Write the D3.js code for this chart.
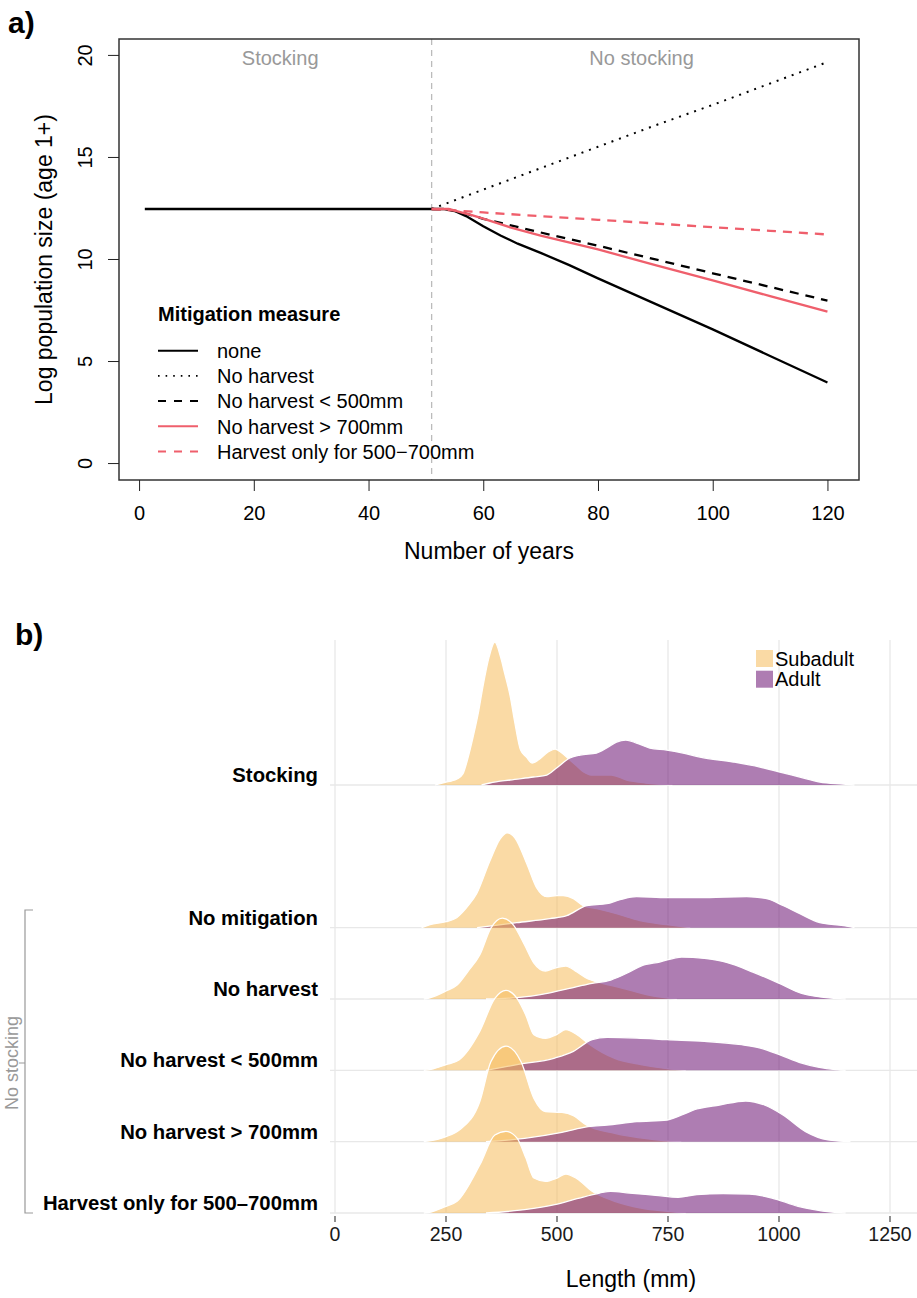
<!DOCTYPE html>
<head>
  <meta charset="utf-8">
  <script src="https://d3js.org/d3.v7.min.js"></script>
  <style>
    body { margin:0; background:#fff; }
    text { font-family: "Liberation Sans", Arial, Helvetica, sans-serif; }
  </style>
</head>

<body>
  <script>
    // ---------- panel a : log population size by year ----------
    var seriesNames = ["none", "No harvest", "No harvest < 500mm", "No harvest > 700mm", "Harvest only for 500\u2212700mm"];

    var noneYears = [1, 51, 53, 55, 57, 60, 63, 66, 70, 75, 80, 90, 100, 110, 120];
    var noneVals  = [12.45, 12.45, 12.45, 12.35, 12.1, 11.6, 11.15, 10.75, 10.3, 9.7, 9.05, 7.8, 6.55, 5.25, 3.95];

    var noHarvYears = [51, 60, 70, 80, 90, 100, 110, 120];
    var noHarvVals  = [12.45, 13.4, 14.45, 15.5, 16.55, 17.55, 18.6, 19.65];

    var lt500Years = [51, 54, 56, 60, 70, 80, 90, 100, 110, 120];
    var lt500Vals  = [12.45, 12.42, 12.3, 11.97, 11.3, 10.65, 9.98, 9.3, 8.63, 7.96];

    var gt700Years = [51, 54, 56, 58, 60, 65, 70, 80, 90, 100, 110, 120];
    var gt700Vals  = [12.45, 12.45, 12.3, 12.15, 11.98, 11.52, 11.15, 10.47, 9.7, 8.95, 8.18, 7.42];

    var onlyYears = [51, 55, 60, 70, 80, 90, 100, 110, 120];
    var onlyVals  = [12.45, 12.38, 12.28, 12.1, 11.92, 11.74, 11.56, 11.38, 11.2];

    var stockingEnd = 51;
    var xTicksA = [0, 20, 40, 60, 80, 100, 120];
    var yTicksA = [0, 5, 10, 15, 20];

    // ---------- panel b : length distributions ----------
    var rowNames = ["Stocking", "No mitigation", "No harvest", "No harvest < 500mm", "No harvest > 700mm", "Harvest only for 500\u2013700mm"];
    var stageNames = ["Subadult", "Adult"];
    var xTicksB = [0, 250, 500, 750, 1000, 1250];

    // [length mm, scaled density]
    var stockingSub = [[225,0],[250,3],[262,4],[275,6],[288,11],[300,28],[311,48],[324,75],[333,98],[347,128],[360,143],[373,128],[382,112],[395,88],[404,65],[418,35],[431,28],[444,22],[458,25],[480,33],[496,36],[511,32],[529,25],[542,20],[560,13],[577,10],[600,10],[622,10],[657,5],[700,2],[760,0]];
    var stockingAd  = [[330,0],[349,2],[394,5],[447,8],[477,10],[499,17],[529,27],[552,30],[589,32],[612,37],[634,43],[655,45],[679,42],[709,37],[747,35],[784,32],[822,28],[897,23],[957,18],[1002,13],[1047,8],[1092,3],[1144,1],[1170,0]];

    var noMitSub = [[195,0],[214,3],[250,6],[274,10],[300,22],[319,34],[349,67],[372,89],[388,95],[405,90],[432,64],[454,40],[477,31],[500,32],[514,32],[537,29],[559,22],[590,19],[634,14],[687,7],[747,3],[800,0]];
    var noMitAd  = [[320,0],[357,2],[409,5],[484,9],[522,12],[567,22],[612,24],[642,28],[679,31],[747,30],[822,30],[927,31],[972,29],[1010,22],[1047,14],[1092,5],[1145,2],[1170,0]];

    var noHarvSub = [[200,0],[212,1],[250,8],[275,14],[300,28],[326,44],[351,71],[377,81],[402,74],[427,54],[448,36],[474,28],[495,31],[520,33],[545,27],[570,20],[592,17],[646,11],[706,4],[770,0]];
    var noHarvAd  = [[340,0],[410,1.3],[478,5.6],[528,10.6],[579,15.6],[621,19],[663,27],[689,33],[731,37],[781,42],[832,40.6],[882,36.6],[941,27],[1001,15.6],[1051,5.6],[1127,0.6],[1150,0]];

    var lt500Sub = [[200,0],[216,1],[250,5.7],[280,10.7],[326,39],[360,72],[385,80],[410,72],[430,55],[448,35.7],[474,32],[500,36],[520,40.7],[545,35.7],[570,27],[630,12],[689,5.7],[748,1.7],[790,0]];
    var lt500Ad  = [[340,0],[410,5.7],[495,12.3],[537,19],[579,30.7],[613,33],[680,32.3],[748,30.7],[832,29],[916,25.7],[958,22.3],[1001,15.7],[1051,7.3],[1127,0.7],[1150,0]];

    var gt700Sub = [[200,0],[212,0.7],[250,5],[280,11.7],[326,40],[351,80],[385,95.7],[419,80],[448,43.3],[474,30],[511,29.3],[537,26],[566,16.7],[630,8.3],[706,2.7],[748,0.7],[780,0]];
    var gt700Ad  = [[340,0],[427,3.3],[511,9.3],[570,15],[613,16.7],[680,20],[748,21.7],[781,26.7],[815,32.7],[866,36.7],[925,40.7],[967,36.7],[1009,26.7],[1060,10],[1110,1.7],[1161,0]];

    var onlySub = [[200,0],[216,1],[250,6.7],[275,11.7],[326,48],[360,78],[385,81.7],[410,75],[430,55],[448,35],[474,31.7],[500,35],[520,39],[545,34.3],[579,21.7],[630,11.7],[689,5],[748,1.7],[790,0]];
    var onlyAd  = [[340,0],[427,3.3],[495,8.3],[545,14.3],[596,20],[621,21.7],[663,20],[722,17.7],[773,15.7],[815,18.3],[874,19.3],[933,19],[984,15],[1043,6.7],[1119,1],[1150,0]];

    var ridgeSub = [stockingSub, noMitSub, noHarvSub, lt500Sub, gt700Sub, onlySub];
    var ridgeAd  = [stockingAd, noMitAd, noHarvAd, lt500Ad, gt700Ad, onlyAd];

    // ------------------------------------------------------------
    var svg = d3.select("body").append("svg")
      .attr("width", 917)
      .attr("height", 1298);

    var red = "#EF5F6C";
    var lineStyles = [
      {color: "#000", dash: null},
      {color: "#000", dash: "2,6"},
      {color: "#000", dash: "9,7"},
      {color: red, dash: null},
      {color: red, dash: "9,7"}
    ];
    var seriesA = [
      d3.zip(noneYears, noneVals),
      d3.zip(noHarvYears, noHarvVals),
      d3.zip(lt500Years, lt500Vals),
      d3.zip(gt700Years, gt700Vals),
      d3.zip(onlyYears, onlyVals)
    ];

    var ax = d3.scaleLinear().domain([-3.5, 125.5]).range([119, 859]);
    var ay = d3.scaleLinear().domain([-0.83, 20.78]).range([480, 39]);

    var ga = svg.append("g");

    svg.append("text").attr("x", 8).attr("y", 33)
      .style("font-size", "30px").style("font-weight", "bold").text("a)");

    // stocking divider
    ga.append("line")
      .attr("x1", ax(stockingEnd)).attr("x2", ax(stockingEnd))
      .attr("y1", ay.range()[1]).attr("y2", ay.range()[0])
      .attr("stroke", "#bbb").attr("stroke-width", 1.3).attr("stroke-dasharray", "6,5");

    ga.append("text").attr("x", ax(24.6)).attr("y", 65)
      .attr("text-anchor", "middle").attr("fill", "#999").style("font-size", "20px").text("Stocking");
    ga.append("text").attr("x", ax(87.6)).attr("y", 65)
      .attr("text-anchor", "middle").attr("fill", "#999").style("font-size", "20px").text("No stocking");

    var lineA = d3.line()
      .x(function(d){ return ax(d[0]); })
      .y(function(d){ return ay(d[1]); });

    ga.selectAll("path.series").data(seriesA).enter().append("path")
      .attr("class", "series")
      .attr("d", lineA)
      .attr("fill", "none")
      .attr("stroke", function(d, i){ return lineStyles[i].color; })
      .attr("stroke-width", function(d, i){ return i == 1 ? 2 : 2.3; })
      .attr("stroke-dasharray", function(d, i){ return lineStyles[i].dash; });

    // box
    ga.append("rect")
      .attr("x", 119).attr("y", 39).attr("width", 740).attr("height", 441)
      .attr("fill", "none").attr("stroke", "#333").attr("stroke-width", 1.5);

    var xAxisA = ga.append("g").attr("transform", "translate(0,480)")
      .call(d3.axisBottom(ax).tickValues(xTicksA).tickSize(11).tickFormat(d3.format("d")));
    xAxisA.select(".domain").remove();
    xAxisA.selectAll("line").attr("stroke", "#222");
    xAxisA.selectAll("text").attr("y", 40).attr("dy", 0)
      .attr("fill", "#000").style("font-size", "20px");

    var yAxisA = ga.append("g").attr("transform", "translate(119,0)")
      .call(d3.axisLeft(ay).tickValues(yTicksA).tickSize(11));
    yAxisA.select(".domain").remove();
    yAxisA.selectAll("line").attr("stroke", "#222");
    yAxisA.selectAll("text")
      .attr("transform", "rotate(-90)")
      .attr("x", 0).attr("y", -27).attr("dy", 0)
      .attr("text-anchor", "middle")
      .attr("fill", "#000").style("font-size", "20px");

    ga.append("text").attr("x", 489).attr("y", 559)
      .attr("text-anchor", "middle").style("font-size", "23px").text("Number of years");
    ga.append("text").attr("transform", "translate(52,259.5) rotate(-90)")
      .attr("text-anchor", "middle").style("font-size", "23px").text("Log population size (age 1+)");

    // legend
    var leg = ga.append("g").attr("transform", "translate(158,0)");
    leg.append("text").attr("x", 0).attr("y", 320.5)
      .style("font-size", "20px").style("font-weight", "bold").text("Mitigation measure");
    var legRows = leg.selectAll("g.row").data(seriesNames).enter().append("g")
      .attr("class", "row")
      .attr("transform", function(d, i){ return "translate(0," + (350.7 + i * 25.2) + ")"; });
    legRows.append("line")
      .attr("x1", 0).attr("x2", 40)
      .attr("stroke", function(d, i){ return lineStyles[i].color; })
      .attr("stroke-width", function(d, i){ return i == 1 ? 1.6 : 2; })
      .attr("stroke-dasharray", function(d, i){ return i == 1 ? "1.6,6" : (lineStyles[i].dash ? "8,8" : null); });
    legRows.append("text").attr("x", 59).attr("y", 7.2)
      .style("font-size", "20px").text(function(d){ return d; });

    // ---------- panel b ----------
    var gb = svg.append("g");

    svg.append("text").attr("x", 15).attr("y", 645)
      .style("font-size", "30px").style("font-weight", "bold").text("b)");

    var bx = d3.scaleLinear().domain([0, 1250]).range([335, 890]);
    var by = d3.scalePoint()
      .domain([rowNames[0], "", rowNames[1], rowNames[2], rowNames[3], rowNames[4], rowNames[5]])
      .range([785, 1213]);
    var bh = d3.scaleLinear().domain([0, 71.4]).range([0, by.step()]);

    var grid = "#e8e8e8";
    gb.selectAll("line.vgrid").data(xTicksB).enter().append("line")
      .attr("class", "vgrid")
      .attr("x1", bx).attr("x2", bx)
      .attr("y1", 640).attr("y2", by(rowNames[5]))
      .attr("stroke", grid).attr("stroke-width", 1.3);
    gb.selectAll("line.hgrid").data(rowNames).enter().append("line")
      .attr("class", "hgrid")
      .attr("x1", 330).attr("x2", 917)
      .attr("y1", by).attr("y2", by)
      .attr("stroke", grid).attr("stroke-width", 1.3);

    var fills = ["#F6BC5B", "#6C1373"];
    var alpha = 0.55;

    rowNames.forEach(function(name, r) {
      var base = by(name);
      var area = d3.area()
        .x(function(d){ return bx(d[0]); })
        .y0(base)
        .y1(function(d){ return base - bh(d[1]); })
        .curve(d3.curveMonotoneX);
      var top = d3.line()
        .x(function(d){ return bx(d[0]); })
        .y(function(d){ return base - bh(d[1]); })
        .curve(d3.curveMonotoneX);
      [ridgeSub[r], ridgeAd[r]].forEach(function(dens, s) {
        gb.append("path").attr("d", area(dens))
          .attr("fill", fills[s]).attr("fill-opacity", alpha);
        gb.append("path").attr("d", top(dens))
          .attr("fill", "none").attr("stroke", "#fff").attr("stroke-width", 1.3);
      });
      gb.append("text").attr("x", 318).attr("y", base - 3)
        .attr("text-anchor", "end")
        .style("font-size", "20.3px").style("font-weight", "bold").text(name);
    });

    // x axis panel b
    var bottom = by(rowNames[5]);
    gb.selectAll("line.tick").data(xTicksB).enter().append("line")
      .attr("class", "tick")
      .attr("x1", bx).attr("x2", bx)
      .attr("y1", bottom + 3).attr("y2", bottom + 9)
      .attr("stroke", "#333").attr("stroke-width", 1.1);
    gb.selectAll("text.tickl").data(xTicksB).enter().append("text")
      .attr("class", "tickl")
      .attr("x", bx).attr("y", 1241)
      .attr("text-anchor", "middle").attr("fill", "#1a1a1a")
      .style("font-size", "19.5px").text(function(d){ return d; });
    gb.append("text").attr("x", 631).attr("y", 1287)
      .attr("text-anchor", "middle").style("font-size", "23px").text("Length (mm)");

    // legend panel b
    var legB = gb.selectAll("g.legb").data(stageNames).enter().append("g")
      .attr("class", "legb")
      .attr("transform", function(d, i){ return "translate(756," + (650 + i * 20.7) + ")"; });
    legB.append("rect").attr("width", 17).attr("height", 17)
      .attr("fill", function(d, i){ return fills[i]; }).attr("fill-opacity", alpha);
    legB.append("text").attr("x", 19).attr("y", 15.5)
      .style("font-size", "20px").text(function(d){ return d; });

    // no stocking bracket
    var bTop = 910, bBot = by(rowNames[5]), bMid = 1063;
    gb.append("path")
      .attr("d", "M33," + bTop + "H25V" + bBot + "H33M25," + bMid + "H19")
      .attr("fill", "none").attr("stroke", "#999").attr("stroke-width", 1.2);
    gb.append("text").attr("transform", "translate(17.5," + bMid + ") rotate(-90)")
      .attr("text-anchor", "middle").attr("fill", "#999")
      .style("font-size", "18px").text("No stocking");
  </script>
</body>
